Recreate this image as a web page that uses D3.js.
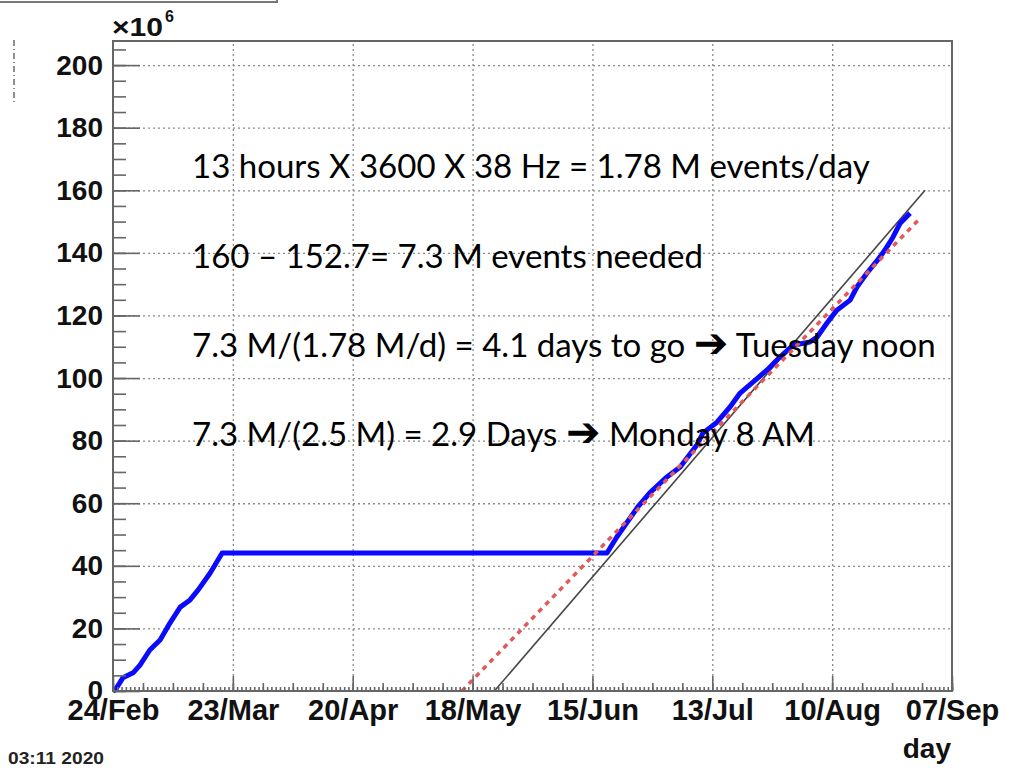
<!DOCTYPE html>
<html>
<head>
<meta charset="utf-8">
<script src="https://cdn.jsdelivr.net/npm/d3@7"></script>
<style>
  body { margin: 0; background: #fff; }
  svg { display: block; }
</style>
</head>
<body>
<div id="chart"></div>
<script>
// x values are days after 24 Feb 2020, y values in millions of events
var blueDays = [0, 0.5, 2.3, 4.7, 6.3, 8.6, 11.0, 13.3, 15.7, 18.0, 19.9, 22.7, 25.5,
  115.4, 117.7, 122.6, 125.4, 129.4, 132.5, 136.4, 137.8, 141.1, 144.1, 146.5, 149.5,
  152.8, 155.8, 158.9, 162.8, 164.5, 166.8, 169.1, 172.2, 173.8, 176.1, 179.2, 180.8,
  182.2, 183.9, 186.2];
var blueVals = [0, 0.3, 4.2, 5.8, 8.3, 13.1, 16.3, 21.7, 26.8, 29.1, 32.3, 37.7, 44.1,
  44.1, 49.2, 58.8, 63.3, 68.4, 71.6, 78.6, 82.4, 85.9, 90.7, 95.2, 98.7,
  102.6, 106.7, 110.5, 111.5, 113.1, 117.6, 121.7, 124.9, 129.1, 133.5, 138.7, 141.9,
  145.0, 149.5, 152.7];
var blackDays = [89.1, 189.7];
var blackVals = [0, 160];
var redDays = [81.5, 188.5];
var redVals = [0, 151];

var xTickLabels = ["24/Feb", "23/Mar", "20/Apr", "18/May", "15/Jun", "13/Jul", "10/Aug", "07/Sep"];
var yTickValues = [0, 20, 40, 60, 80, 100, 120, 140, 160, 180, 200];
var notes = [
  "13 hours X 3600 X 38 Hz = 1.78 M events/day",
  "160 \u2013 152.7= 7.3 M events needed",
  "7.3 M/(1.78 M/d) = 4.1 days to go \u2794 Tuesday noon",
  "7.3 M/(2.5 M) = 2.9 Days \u2794 Monday 8 AM"
];

function drawChart() {
  var W = 1021, H = 770;
  var pL = 113, pR = 952, pT = 41, pB = 691;
  var start = Date.UTC(2020, 1, 24);
  var DAY = 86400000;
  function toDate(d) { return new Date(start + d * DAY); }

  var svg = d3.select("#chart").append("svg")
      .attr("width", W)
      .attr("height", H)
      .attr("font-family", "'Liberation Sans', Arial, sans-serif");

  var x = d3.scaleUtc()
      .domain([toDate(0), toDate(196)])
      .range([pL, pR]);
  var y = d3.scaleLinear()
      .domain([0, 207.7])
      .range([pB, pT]);

  var majorDates = xTickLabels.map(function(l, i) { return toDate(i * 28); });
  var weekDates = d3.range(0, 197, 7).map(toDate);
  var dayDates = d3.range(0, 197, 1).map(toDate);

  // grid
  var grid = svg.append("g").attr("class", "grid");
  grid.append("g")
      .attr("transform", "translate(0," + pB + ")")
      .call(d3.axisBottom(x).tickValues(majorDates.slice(1, -1)).tickSize(-(pB - pT)).tickFormat(""));
  grid.append("g")
      .attr("transform", "translate(" + pL + ",0)")
      .call(d3.axisLeft(y).tickValues(yTickValues.slice(1)).tickSize(-(pR - pL)).tickFormat(""));
  grid.selectAll(".domain").remove();
  grid.selectAll("line")
      .attr("stroke", "#8a8a8a")
      .attr("stroke-width", 1.3)
      .attr("stroke-dasharray", "2,3");

  // lines
  var line = d3.line()
      .x(function(d) { return x(toDate(d[0])); })
      .y(function(d) { return y(d[1]); });

  svg.append("path")
      .datum(blackDays.map(function(d, i) { return [d, blackVals[i]]; }))
      .attr("d", line)
      .attr("fill", "none")
      .attr("stroke", "#444")
      .attr("stroke-width", 1.6);

  svg.append("path")
      .datum(blueDays.map(function(d, i) { return [d, blueVals[i]]; }))
      .attr("d", line)
      .attr("fill", "none")
      .attr("stroke", "#0a0aff")
      .attr("stroke-width", 5)
      .attr("stroke-linejoin", "round");

  svg.append("path")
      .datum(redDays.map(function(d, i) { return [d, redVals[i]]; }))
      .attr("d", line)
      .attr("fill", "none")
      .attr("stroke", "#e05a5a")
      .attr("stroke-width", 3.5)
      .attr("stroke-dasharray", "5,5");

  // frame
  svg.append("rect")
      .attr("x", pL).attr("y", pT)
      .attr("width", pR - pL).attr("height", pB - pT)
      .attr("fill", "none")
      .attr("stroke", "#666")
      .attr("stroke-width", 2);

  function tickAxis(g) {
    g.select(".domain").remove();
    g.selectAll("line").attr("stroke", "#666").attr("stroke-width", 1.6);
  }

  // x axis ticks
  svg.append("g")
      .attr("transform", "translate(0," + pB + ")")
      .call(d3.axisBottom(x).tickValues(dayDates).tickSize(-4).tickFormat(""))
      .call(tickAxis);
  svg.append("g")
      .attr("transform", "translate(0," + pB + ")")
      .call(d3.axisBottom(x).tickValues(weekDates).tickSize(-8).tickFormat(""))
      .call(tickAxis);
  var xAxis = svg.append("g")
      .attr("transform", "translate(0," + pB + ")")
      .call(d3.axisBottom(x).tickValues(majorDates).tickSize(-15).tickPadding(8)
        .tickFormat(function(d, i) { return xTickLabels[i]; }))
      .call(tickAxis);
  xAxis.selectAll("text")
      .attr("fill", "#111")
      .attr("font-size", 29)
      .attr("font-weight", "bold")
      .attr("font-family", "'Liberation Sans', Arial, sans-serif");

  // y axis ticks
  svg.append("g")
      .attr("transform", "translate(" + pL + ",0)")
      .call(d3.axisLeft(y).tickValues(d3.range(0, 206, 5)).tickSize(-13).tickFormat(""))
      .call(tickAxis);
  var yAxis = svg.append("g")
      .attr("transform", "translate(" + pL + ",0)")
      .call(d3.axisLeft(y).tickValues(yTickValues).tickSize(-27).tickPadding(10))
      .call(tickAxis);
  yAxis.selectAll("text")
      .attr("fill", "#111")
      .attr("font-size", 28)
      .attr("font-weight", "bold")
      .attr("font-family", "'Liberation Sans', Arial, sans-serif");

  // x10^6 exponent
  svg.append("text")
      .attr("x", 112).attr("y", 36)
      .attr("font-size", 25)
      .attr("font-weight", "bold")
      .attr("fill", "#111")
      .attr("textLength", 51)
      .attr("lengthAdjust", "spacingAndGlyphs")
      .text("\u00d710");
  svg.append("text")
      .attr("x", 165).attr("y", 22)
      .attr("font-size", 16)
      .attr("font-weight", "bold")
      .attr("fill", "#111")
      .text("6");

  // annotations
  var noteG = svg.append("g")
      .attr("font-family", "Lato, 'Open Sans', sans-serif")
      .attr("fill", "#000");
  var probe = noteG.append("text").attr("font-size", 100).text(notes[0]);
  var fs = 100 * 678 / probe.node().getComputedTextLength();
  probe.remove();
  var noteY = [178, 268, 357, 446];
  notes.forEach(function(s, i) {
    var t = noteG.append("text")
        .attr("x", 192)
        .attr("y", noteY[i])
        .attr("font-size", fs);
    var parts = s.split("\u2794");
    parts.forEach(function(p, j) {
      if (j > 0) {
        t.append("tspan")
            .attr("font-family", "'DejaVu Sans', sans-serif")
            .attr("font-weight", "bold")
            .attr("font-size", fs * 1.25)
            .text("\u2794");
      }
      t.append("tspan").text(p);
    });
  });

  // bottom texts
  svg.append("text")
      .attr("x", 8).attr("y", 764)
      .attr("font-size", 17)
      .attr("font-weight", "bold")
      .attr("fill", "#222")
      .attr("textLength", 96)
      .attr("lengthAdjust", "spacingAndGlyphs")
      .text("03:11 2020");
  svg.append("text")
      .attr("x", 951).attr("y", 758)
      .attr("text-anchor", "end")
      .attr("font-size", 28)
      .attr("font-weight", "bold")
      .attr("fill", "#111")
      .text("day");

  // cut-off box at top left and dashed stub on the left
  svg.append("path")
      .attr("d", "M0,2H277V-5")
      .attr("fill", "none")
      .attr("stroke", "#777")
      .attr("stroke-width", 2);
  svg.append("line")
      .attr("x1", 14).attr("x2", 14)
      .attr("y1", 40).attr("y2", 103)
      .attr("stroke", "#555")
      .attr("stroke-width", 1.3)
      .attr("stroke-dasharray", "6,3,1,3");
}

drawChart();
</script>
</body>
</html>
